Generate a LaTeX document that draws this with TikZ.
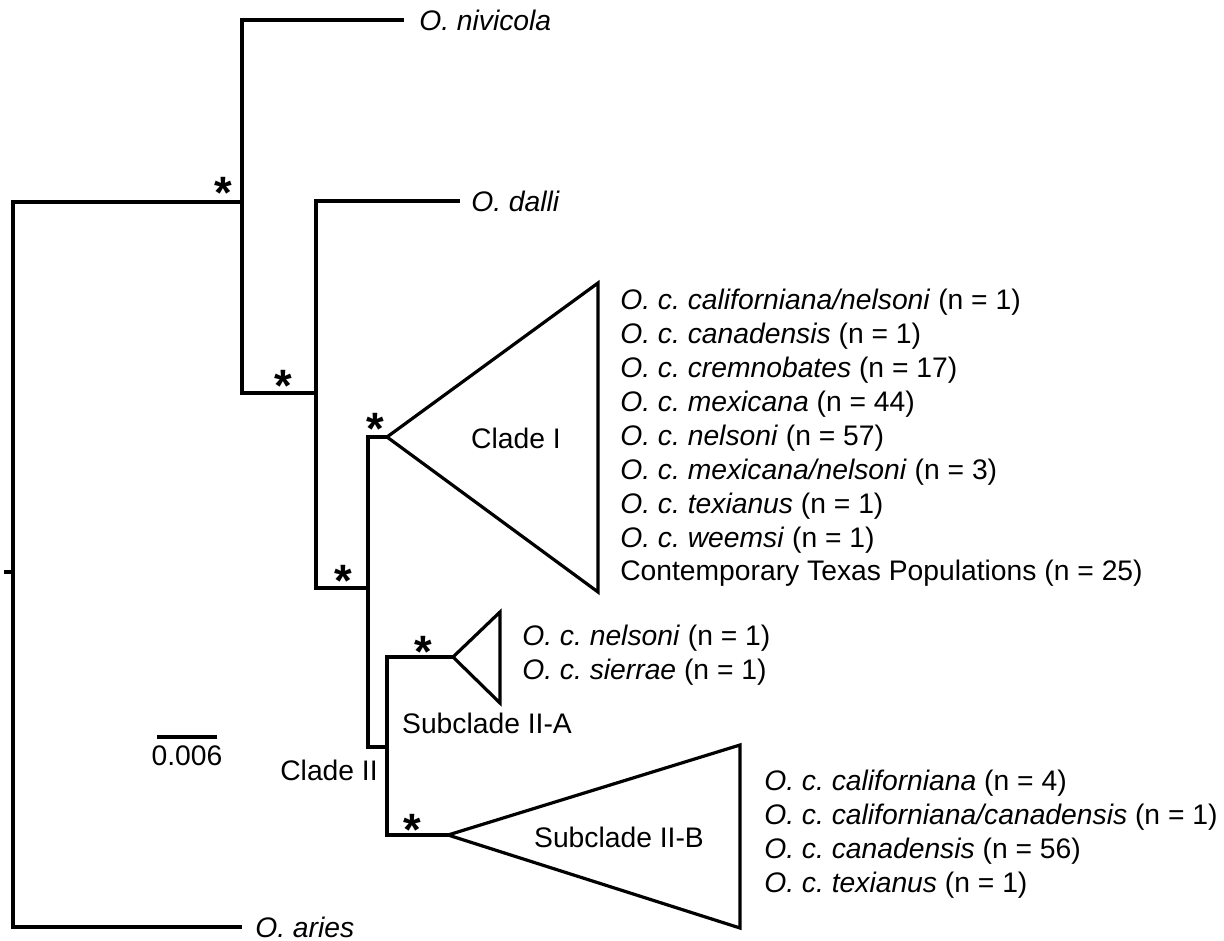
\documentclass[tikz,border=0pt]{standalone}
\usepackage{fontspec}
\setmainfont{Liberation Sans}
\usetikzlibrary{positioning}
\frenchspacing

\tikzset{
  branch/.style={line width=2.4pt, line cap=rect},
  clade/.style={line width=2.4pt, line join=miter},
  taxon/.style={anchor=west, inner sep=0.75pt, font=\fontsize{21.2}{25.5}\selectfont},
  cladelbl/.style={inner sep=0.75pt, font=\fontsize{21.2}{25.5}\selectfont},
  support/.style={inner sep=0pt, font=\fontsize{34}{38}\selectfont\bfseries},
}

\begin{document}
\begin{tikzpicture}[x=0.75pt,y=0.75pt,yscale=-1,xscale=1]
        \useasboundingbox (0,0) rectangle (1224,941);

        % branch points
        \coordinate (stub) at (6,572);
        \coordinate (n0) at (13,572);
        \coordinate (nA) at (242,202);
        \coordinate (nB) at (316,393);
        \coordinate (nC) at (368,588);
        \coordinate (nD) at (387,747);
        % tips
        \coordinate (nivTip) at (402,20);
        \coordinate (dalTip) at (458,201);
        \coordinate (ariTip) at (240,927);
        \coordinate (apexI) at (387,437);
        \coordinate (apexIIA) at (453,657);
        \coordinate (apexIIB) at (448,835);

        % Tree branches
        \draw [branch] (stub) -- (n0) ;
        \draw [branch] (nA) -| (n0) |- (ariTip) ;
        \draw [branch] (nivTip) -| (nA) |- (nB) ;
        \draw [branch] (dalTip) -| (nB) |- (nC) ;
        \draw [branch] (apexI) -| (nC) |- (nD) ;
        \draw [branch] (apexIIA) -| (nD) |- (apexIIB) ;

        % Collapsed clades
        \draw [clade] (apexI) -- (598,283) -- (598,592) -- cycle ;
        \draw [clade] (apexIIA) -- (500,612) -- (500,703) -- cycle ;
        \draw [clade] (apexIIB) -- (740,745) -- (740,928) -- cycle ;

        % Scale bar
        \coordinate (sbL) at (157,737);
        \coordinate (sbR) at (217,737);
        \draw [branch, line cap=butt] (sbL) -- (sbR) ;
        \node [cladelbl] (sbText) at (187,756) {0.006};

        % Support values
        \node [support] (sA) at (223,193) {*};
        \node [support] (sB) at (283,386) {*};
        \node [support] (sCI) at (375,429) {*};
        \node [support] (sC) at (343,581) {*};
        \node [support] (sIIA) at (423,652) {*};
        \node [support] (sIIB) at (412,830) {*};

        % Outgroups
        \node [taxon] (nivicola) at (418,20) {\textit{O. nivicola}};
        \node [taxon] (dalli) at (470,201) {\textit{O. dalli}};
        \node [taxon] (aries) at (254,927) {\textit{O. aries}};

        % Clade names
        \node [cladelbl] (cladeI) at (516,438) {Clade I};
        \node [cladelbl, anchor=east] (cladeII) at (379,770) {Clade II};
        \node [cladelbl] (subIIA) at (487,723) {Subclade II-A};
        \node [cladelbl] (subIIB) at (619,837) {Subclade II-B};

        % Clade I members
        \node [taxon] (cI1) at (619,302) {\textit{O. c. californiana/nelsoni} (n = 1)};
        \node [taxon] (cI2) at (619,336) {\textit{O. c. canadensis} (n = 1)};
        \node [taxon] (cI3) at (619,370) {\textit{O. c. cremnobates} (n = 17)};
        \node [taxon] (cI4) at (619,404) {\textit{O. c. mexicana} (n = 44)};
        \node [taxon] (cI5) at (619,438) {\textit{O. c. nelsoni} (n = 57)};
        \node [taxon] (cI6) at (619,472) {\textit{O. c. mexicana/nelsoni} (n = 3)};
        \node [taxon] (cI7) at (619,506) {\textit{O. c. texianus} (n = 1)};
        \node [taxon] (cI8) at (619,540) {\textit{O. c. weemsi} (n = 1)};
        \node [taxon] (cI9) at (619,573) {Contemporary Texas Populations (n = 25)};

        % Subclade II-A members
        \node [taxon] (cIIA1) at (521,638) {\textit{O. c. nelsoni} (n = 1)};
        \node [taxon] (cIIA2) at (521,672) {\textit{O. c. sierrae} (n = 1)};

        % Subclade II-B members
        \node [taxon] (cIIB1) at (763,783) {\textit{O. c. californiana} (n = 4)};
        \node [taxon] (cIIB2) at (763,817) {\textit{O. c. californiana/canadensis} (n = 1)};
        \node [taxon] (cIIB3) at (763,851) {\textit{O. c. canadensis} (n = 56)};
        \node [taxon] (cIIB4) at (763,885) {\textit{O. c. texianus} (n = 1)};

\end{tikzpicture}
\end{document}
